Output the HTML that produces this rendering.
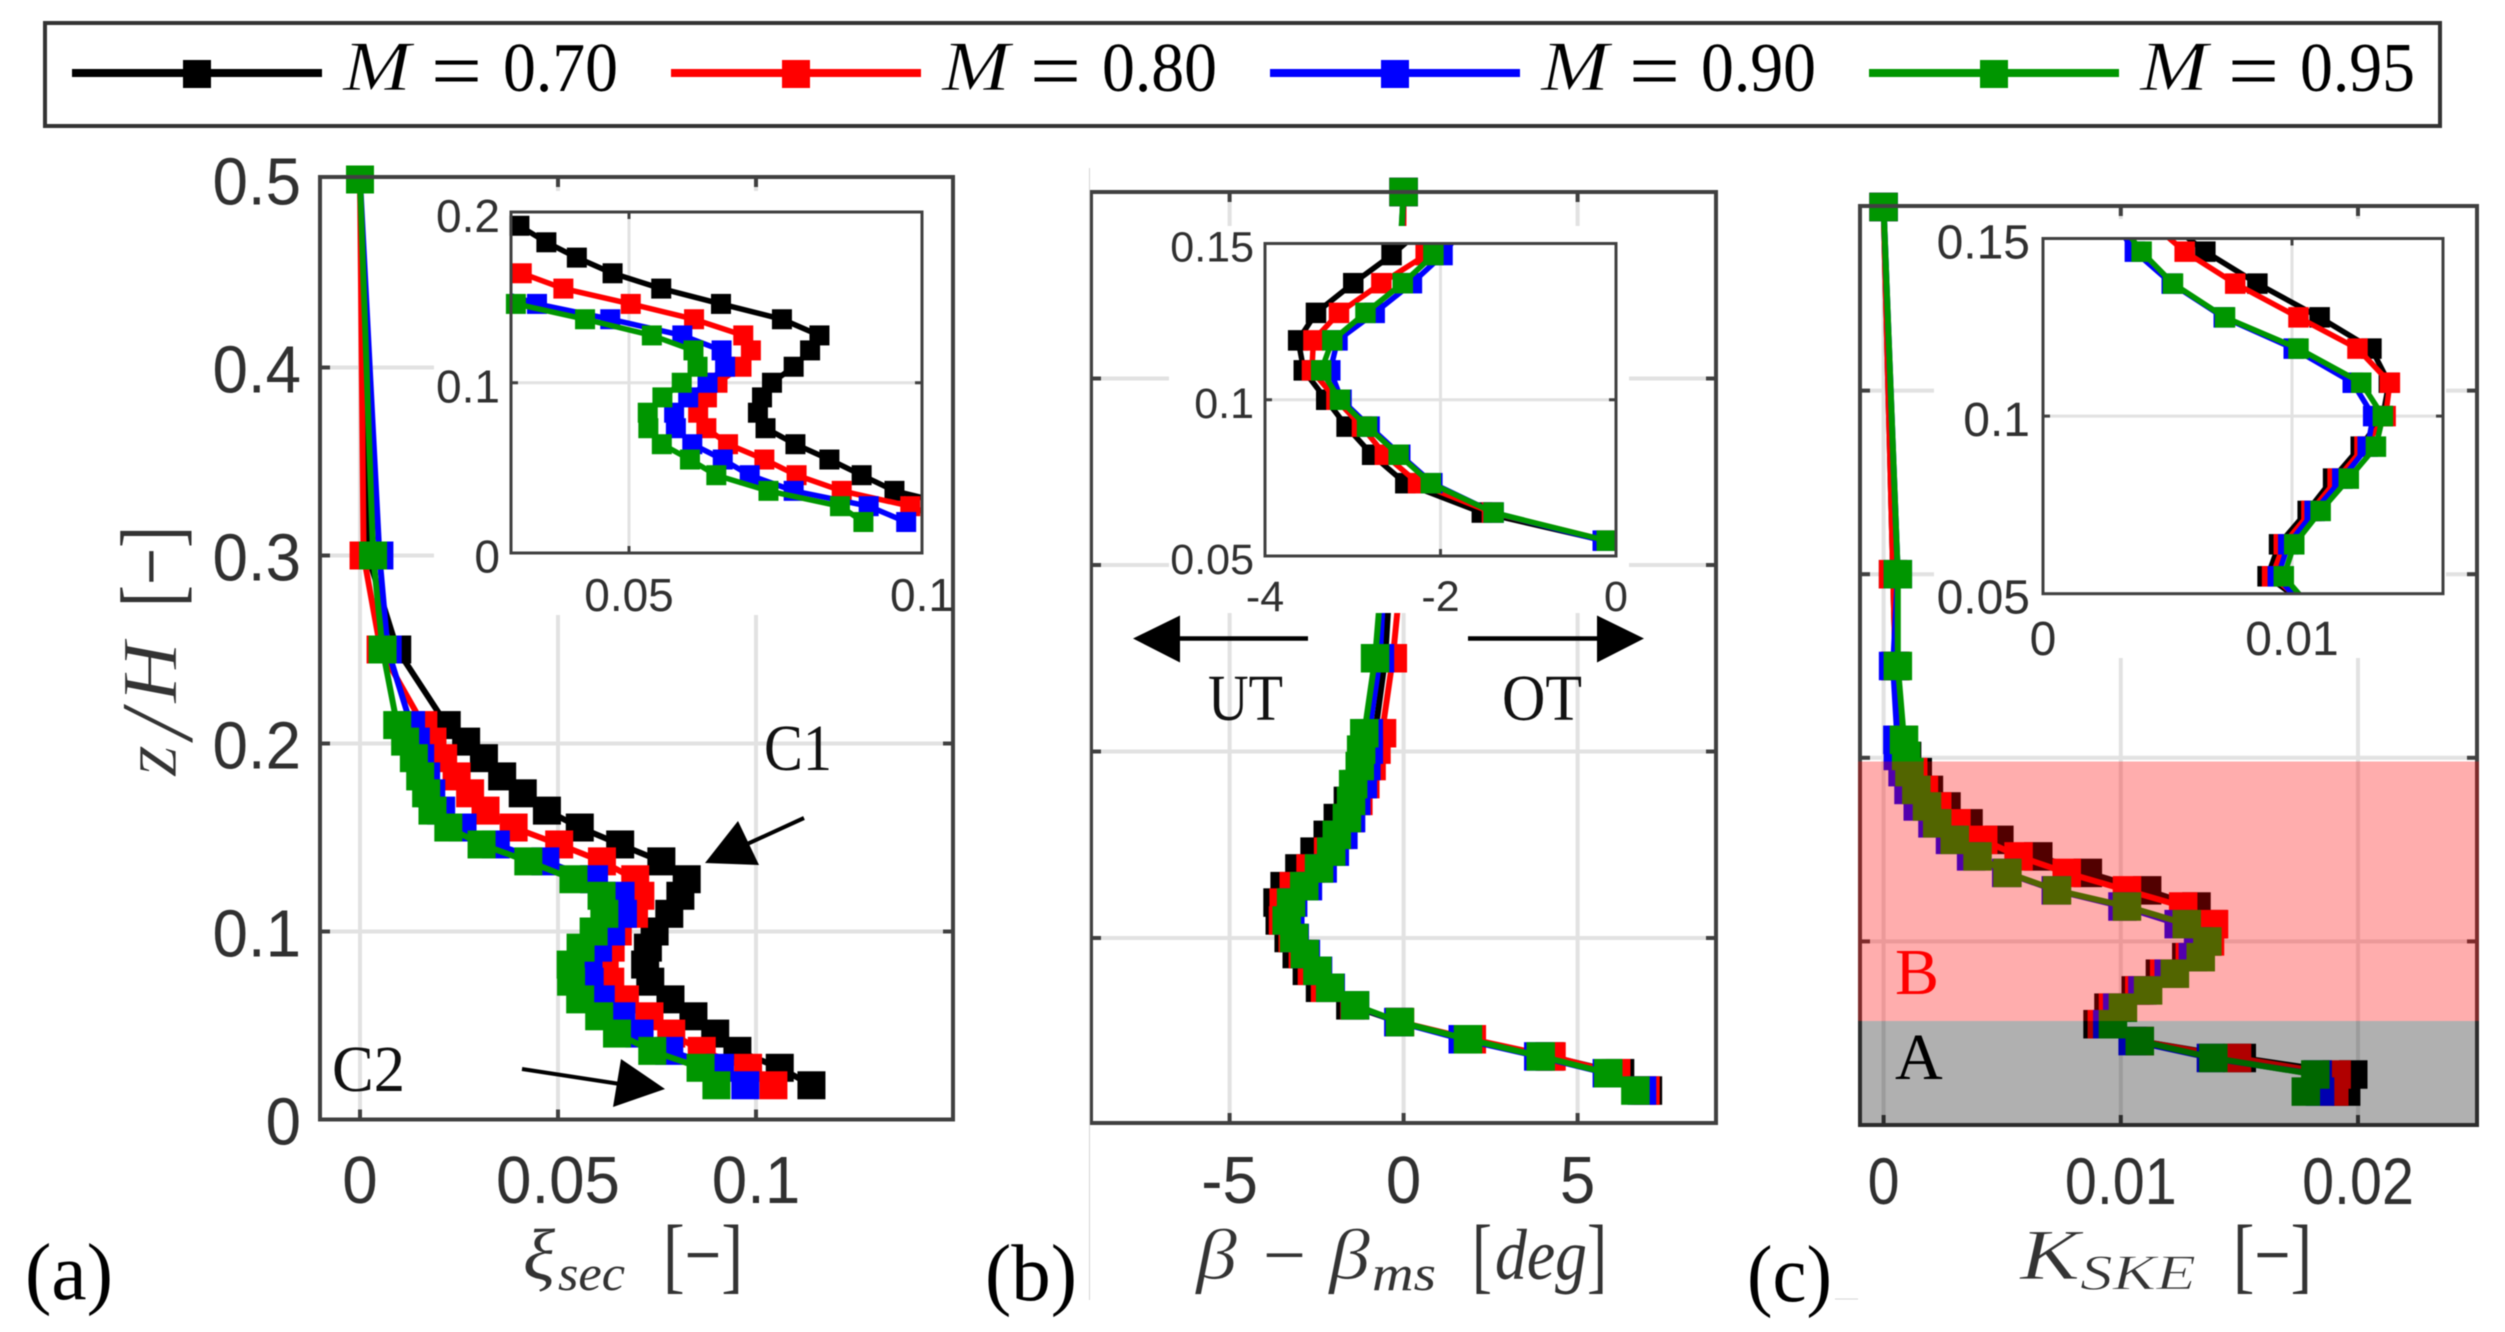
<!DOCTYPE html>
<html lang="en">
<head>
<meta charset="utf-8">
<title>Spanwise profiles of secondary loss, flow angle and SKE</title>
<style>
html,body{margin:0;padding:0;background:#fff;}
svg{display:block;filter:blur(0.5px);}
.tick{font-family:"Liberation Sans",sans-serif;fill:#303030;}
.serif{font-family:"Liberation Serif",serif;}
.ital{font-family:"Liberation Serif",serif;font-style:italic;}
.thin{stroke:#fff;stroke-width:0.8;}
</style>
</head>
<body>
<svg id="figure" xmlns="http://www.w3.org/2000/svg" width="2505" height="1332" viewBox="0 0 2505 1332">
  <defs>
    <clipPath id="clip-inset-a"><rect x="511" y="212" width="411" height="341"/></clipPath>
    <clipPath id="clip-inset-b"><rect x="1265" y="243.5" width="351" height="312.5"/></clipPath>
    <clipPath id="clip-inset-c"><rect x="2043" y="238.5" width="400" height="355"/></clipPath>
  </defs>
  <rect width="2505" height="1332" fill="#fff"/>

  <g id="legend">
    <rect x="45" y="23" width="2395" height="103" fill="#fff" stroke="#333" stroke-width="4"/>
    <g>
      <line x1="72" x2="322" y1="73" y2="73" stroke="#000" stroke-width="8"/>
      <rect x="183" y="60" width="28" height="28" fill="#000"/>
      <text class="ital thin" x="343" y="90" font-size="71" textLength="68" lengthAdjust="spacingAndGlyphs">M</text>
      <text class="serif" x="431" y="99" font-size="84" textLength="51" lengthAdjust="spacingAndGlyphs">=</text>
      <text class="serif" x="503" y="91" font-size="70" textLength="115" lengthAdjust="spacingAndGlyphs">0.70</text>
    </g>
    <g>
      <line x1="671" x2="921" y1="73" y2="73" stroke="#f00" stroke-width="8"/>
      <rect x="782" y="60" width="28" height="28" fill="#f00"/>
      <text class="ital thin" x="942" y="90" font-size="71" textLength="68" lengthAdjust="spacingAndGlyphs">M</text>
      <text class="serif" x="1030" y="99" font-size="84" textLength="51" lengthAdjust="spacingAndGlyphs">=</text>
      <text class="serif" x="1102" y="91" font-size="70" textLength="115" lengthAdjust="spacingAndGlyphs">0.80</text>
    </g>
    <g>
      <line x1="1270" x2="1520" y1="73" y2="73" stroke="#00f" stroke-width="8"/>
      <rect x="1381" y="60" width="28" height="28" fill="#00f"/>
      <text class="ital thin" x="1541" y="90" font-size="71" textLength="68" lengthAdjust="spacingAndGlyphs">M</text>
      <text class="serif" x="1629" y="99" font-size="84" textLength="51" lengthAdjust="spacingAndGlyphs">=</text>
      <text class="serif" x="1701" y="91" font-size="70" textLength="115" lengthAdjust="spacingAndGlyphs">0.90</text>
    </g>
    <g>
      <line x1="1869" x2="2119" y1="73" y2="73" stroke="#009600" stroke-width="8"/>
      <rect x="1980" y="60" width="28" height="28" fill="#009600"/>
      <text class="ital thin" x="2140" y="90" font-size="71" textLength="68" lengthAdjust="spacingAndGlyphs">M</text>
      <text class="serif" x="2228" y="99" font-size="84" textLength="51" lengthAdjust="spacingAndGlyphs">=</text>
      <text class="serif" x="2300" y="91" font-size="70" textLength="115" lengthAdjust="spacingAndGlyphs">0.95</text>
    </g>
  </g>

  <g id="panel-a"></g>
  <g id="panel-b"></g>
  <g id="panel-c"></g>

  <g>
    <g fill="#333">
      <text class="ital thin" transform="translate(176,776) rotate(-90)" font-size="78" textLength="31" lengthAdjust="spacingAndGlyphs">z</text>
      <text class="ital thin" transform="translate(192,739) rotate(-90)" font-size="104" textLength="28" lengthAdjust="spacingAndGlyphs">/</text>
      <text class="ital thin" transform="translate(176,703) rotate(-90)" font-size="78" textLength="61" lengthAdjust="spacingAndGlyphs">H</text>
      <text class="serif" transform="translate(180,607) rotate(-90)" font-size="86" textLength="81" lengthAdjust="spacingAndGlyphs">[−]</text>
    </g>

    <g fill="#333">
      <text class="ital" x="523" y="1279" font-size="72" textLength="32" lengthAdjust="spacingAndGlyphs">ξ</text>
      <text class="ital" x="558" y="1290" font-size="50" textLength="67" lengthAdjust="spacingAndGlyphs">sec</text>
      <text class="serif" x="663" y="1283" font-size="84" textLength="80" lengthAdjust="spacingAndGlyphs">[−]</text>
    </g>
    <g fill="#333">
      <text class="ital thin" x="1196" y="1279" font-size="72" textLength="41" lengthAdjust="spacingAndGlyphs">β</text>
      <text class="serif" x="1263" y="1279" font-size="72" textLength="43" lengthAdjust="spacingAndGlyphs">−</text>
      <text class="ital thin" x="1329" y="1279" font-size="72" textLength="41" lengthAdjust="spacingAndGlyphs">β</text>
      <text class="ital" x="1372" y="1290" font-size="50" textLength="64" lengthAdjust="spacingAndGlyphs">ms</text>
      <text class="serif" x="1472" y="1283" font-size="84" textLength="20" lengthAdjust="spacingAndGlyphs">[</text>
      <text class="ital" x="1495" y="1279" font-size="72" textLength="92" lengthAdjust="spacingAndGlyphs">deg</text>
      <text class="serif" x="1587" y="1283" font-size="84" textLength="20" lengthAdjust="spacingAndGlyphs">]</text>
    </g>
    <g fill="#333">
      <text class="ital thin" x="2020" y="1279" font-size="72" textLength="60" lengthAdjust="spacingAndGlyphs">K</text>
      <text class="ital thin" x="2080" y="1289" font-size="50" textLength="116" lengthAdjust="spacingAndGlyphs">SKE</text>
      <text class="serif" x="2233" y="1283" font-size="84" textLength="79" lengthAdjust="spacingAndGlyphs">[−]</text>
    </g>

    <text class="serif" x="25" y="1299" font-size="80" textLength="88" lengthAdjust="spacingAndGlyphs" fill="#000">(a)</text>
    <text class="serif" x="985" y="1300" font-size="80" textLength="92" lengthAdjust="spacingAndGlyphs" fill="#000">(b)</text>
    <text class="serif" x="1747" y="1301" font-size="80" textLength="85" lengthAdjust="spacingAndGlyphs" fill="#000">(c)</text>

    <text class="serif" x="764" y="770" font-size="66" textLength="68" lengthAdjust="spacingAndGlyphs" fill="#111">C1</text>
    <line x1="804" y1="818" x2="745" y2="845" stroke="#000" stroke-width="4"/>
    <polygon points="738,821 705,863 759,865" fill="#000"/>
    <text class="serif" x="332" y="1091" font-size="66" textLength="73" lengthAdjust="spacingAndGlyphs" fill="#111">C2</text>
    <line x1="522" y1="1069" x2="620" y2="1084" stroke="#000" stroke-width="4"/>
    <polygon points="621,1059 665,1089 613,1107" fill="#000"/>

    <line x1="1180" y1="638.5" x2="1308" y2="638.5" stroke="#000" stroke-width="4.5"/>
    <polygon points="1133,638.5 1180,615.5 1180,662.5" fill="#000"/>
    <line x1="1468" y1="638.5" x2="1597" y2="638.5" stroke="#000" stroke-width="4.5"/>
    <polygon points="1644,638.5 1597,615.5 1597,662.5" fill="#000"/>
    <text class="serif" x="1208" y="720" font-size="66" textLength="75" lengthAdjust="spacingAndGlyphs" fill="#111">UT</text>
    <text class="serif" x="1502" y="720" font-size="66" textLength="80" lengthAdjust="spacingAndGlyphs" fill="#111">OT</text>

    <line x1="1089.5" y1="168" x2="1089.5" y2="1300" stroke="#d4d4d4" stroke-width="1"/>
    <line x1="1835" y1="1299" x2="1858" y2="1299" stroke="#d4d4d4" stroke-width="1"/>
  </g>
</svg>

<script>
// Shared spanwise stations z/H
const zLevels = [0.0182,0.0275,0.0365,0.0457,0.0549,0.0639,0.0733,0.0824,0.0914,0.1,0.1094,0.119,0.1278,0.1373,0.1463,0.1553,0.1643,0.1735,0.1825,0.1922,0.201,0.2098,0.25,0.3,0.5];

// Panel (a): secondary loss coefficient
const xiM70 = [0.114,0.106,0.0953,0.0897,0.0842,0.0784,0.0733,0.072,0.0727,0.0744,0.0781,0.0809,0.0825,0.0761,0.0657,0.0555,0.0472,0.0411,0.0359,0.0313,0.0268,0.0219,0.0094,0.002,0];
const xiM80 = [0.1044,0.098,0.0863,0.0786,0.0731,0.0669,0.0632,0.0618,0.0633,0.0651,0.0692,0.0708,0.0695,0.0611,0.0503,0.0388,0.0317,0.0278,0.0244,0.021,0.0183,0.016,0.0052,0.0009,0];
const xiM90 = [0.0973,0.0909,0.0781,0.0706,0.066,0.0608,0.058,0.0577,0.0601,0.0634,0.0664,0.0658,0.0591,0.0468,0.0343,0.0259,0.0205,0.018,0.0167,0.0152,0.0141,0.0129,0.007,0.0049,0];
const xiM95 = [0.09,0.086,0.0738,0.0649,0.0604,0.0556,0.0533,0.0532,0.0557,0.059,0.0617,0.061,0.0539,0.0425,0.0307,0.0223,0.0183,0.0167,0.0152,0.0136,0.0114,0.0094,0.0057,0.0033,0];

// Panel (b): flow angle deviation
const betaM70 = [7.02,6.22,4.2,1.85,-0.134,-1.529,-2.401,-2.779,-3.07,-3.302,-3.558,-3.622,-3.419,-2.994,-2.558,-2.18,-1.89,-1.6,-1.33,-1.11,-1.01,-0.82,-0.53,-0.37,0];
const betaM80 = [6.95,6.11,4.25,1.96,-0.105,-1.413,-2.256,-2.634,-2.895,-3.186,-3.465,-3.448,-3.157,-2.674,-2.169,-1.85,-1.55,-1.3,-1.1,-0.92,-0.78,-0.62,-0.31,-0.05,0];
const betaM90 = [6.85,5.84,3.87,1.7,-0.151,-1.395,-2.093,-2.459,-2.808,-3.128,-3.256,-3.174,-2.75,-2.326,-1.977,-1.73,-1.51,-1.36,-1.17,-1.07,-1,-1,-0.68,-0.55,0];
const betaM95 = [6.66,5.88,3.94,1.85,-0.105,-1.395,-2.11,-2.477,-2.837,-3.145,-3.36,-3.233,-2.855,-2.43,-2.081,-1.92,-1.63,-1.51,-1.45,-1.26,-1.22,-1.13,-0.82,-0.6,0];

// Panel (c): secondary kinetic energy
const kskeM70 = [0.0195,0.0198,0.0151,0.0108,0.00902,0.00948,0.01063,0.01165,0.01276,0.01365,0.01389,0.01319,0.01111,0.00861,0.00652,0.00488,0.00358,0.00265,0.00191,0.00144,0.00099,0.0008,0.0005,0.0004,0];
const kskeM80 = [0.019,0.0191,0.0149,0.0108,0.0092,0.00967,0.01078,0.01183,0.01291,0.01376,0.01393,0.01263,0.01026,0.00772,0.00569,0.0042,0.00307,0.00226,0.0017,0.00125,0.0009,0.00075,0.0005,0.0004,0];
const kskeM90 = [0.0184,0.0183,0.0138,0.0105,0.00943,0.00985,0.01091,0.01202,0.01304,0.01326,0.01244,0.01007,0.00726,0.00517,0.00369,0.0028,0.00206,0.00144,0.00105,0.0008,0.0006,0.00058,0.0004,0.0006,0];
const kskeM95 = [0.0178,0.0182,0.0139,0.0108,0.00967,0.01009,0.01115,0.01228,0.01337,0.01365,0.01278,0.01026,0.00731,0.00522,0.00396,0.003,0.00226,0.00183,0.00138,0.00109,0.00095,0.00086,0.0006,0.0006,0];

// Tick values and labels
const mainZTicks = [0.1,0.2,0.3,0.4];
const mainZLabelValues = [0,0.1,0.2,0.3,0.4,0.5];
const mainZLabels = ['0','0.1','0.2','0.3','0.4','0.5'];
const xiTicks = [0,0.05,0.1];
const xiTickLabels = ['0','0.05','0.1'];
const betaTicks = [-5,0,5];
const betaTickLabels = ['-5','0','5'];
const kskeTicks = [0,0.01,0.02];
const kskeTickLabels = ['0','0.01','0.02'];
const insetAXTicks = [0.05,0.1];
const insetAXLabels = ['0.05','0.1'];
const insetAZTicks = [0,0.1,0.2];
const insetAZLabels = ['0','0.1','0.2'];
const insetBXTicks = [-4,-2,0];
const insetBXLabels = ['-4','-2','0'];
const insetBZTicks = [0.05,0.1,0.15];
const insetBZLabels = ['0.05','0.1','0.15'];
const insetCXTicks = [0,0.01];
const insetCXLabels = ['0','0.01'];
const insetCZTicks = [0.05,0.1,0.15];
const insetCZLabels = ['0.05','0.1','0.15'];

const seriesColors = ['#000000','#ff0000','#0000ff','#009600'];
const seriesNames = ['m070','m080','m090','m095'];

const NS = 'http://www.w3.org/2000/svg';

function scale(d0, d1, p0, p1) {
  return function (v) { return p0 + (v - d0) * (p1 - p0) / (d1 - d0); };
}
function el(parent, tag) {
  const e = document.createElementNS(NS, tag);
  parent.appendChild(e);
  return e;
}
function lineEl(parent, x1, y1, x2, y2, color, width) {
  const l = el(parent, 'line');
  l.setAttribute('x1', x1); l.setAttribute('y1', y1);
  l.setAttribute('x2', x2); l.setAttribute('y2', y2);
  l.setAttribute('stroke', color); l.setAttribute('stroke-width', width);
  return l;
}
function textEl(parent, str, x, y, size, anchor, squeeze) {
  const t = el(parent, 'text');
  t.setAttribute('class', 'tick');
  t.setAttribute('x', x); t.setAttribute('y', y);
  t.setAttribute('font-size', size);
  t.setAttribute('text-anchor', anchor);
  t.textContent = str;
  if (squeeze && squeeze !== 1) {
    t.setAttribute('textLength', (t.getComputedTextLength() * squeeze).toFixed(1));
    t.setAttribute('lengthAdjust', 'spacingAndGlyphs');
  }
  return t;
}

function drawGrid(g, ax, xTicks, zTicks, width) {
  xTicks.forEach(function (v) {
    const l = lineEl(g, ax.x(v), ax.top, ax.x(v), ax.bottom, '#e2e2e2', width);
    
    
  });
  zTicks.forEach(function (v) {
    const l = lineEl(g, ax.left, ax.z(v), ax.right, ax.z(v), '#e2e2e2', width);
    
    
  });
}

function drawTicks(g, ax, xTicks, zTicks, len, width) {
  xTicks.forEach(function (v) {
    const a = lineEl(g, ax.x(v), ax.bottom, ax.x(v), ax.bottom - len, '#404040', width);
    
    
    const b = lineEl(g, ax.x(v), ax.top, ax.x(v), ax.top + len, '#404040', width);
    
    
  });
  zTicks.forEach(function (v) {
    const a = lineEl(g, ax.left, ax.z(v), ax.left + len, ax.z(v), '#404040', width);
    
    
    const b = lineEl(g, ax.right, ax.z(v), ax.right - len, ax.z(v), '#404040', width);
    
    
  });
}

function drawSeries(g, ax, allSeries, lineWidth, markerSize, clipId) {
  allSeries.forEach(function (values, s) {
    const sg = el(g, 'g');
    
    
    const pts = values.map(function (v, i) { return ax.x(v).toFixed(1) + ',' + ax.z(zLevels[i]).toFixed(1); });
    const p = el(sg, 'polyline');
    
    
    p.setAttribute('points', pts.join(' '));
    p.setAttribute('fill', 'none');
    p.setAttribute('stroke', seriesColors[s]);
    p.setAttribute('stroke-width', lineWidth);
    p.setAttribute('stroke-linejoin', 'round');
    if (clipId) { p.setAttribute('clip-path', 'url(#' + clipId + ')'); }
    values.forEach(function (v, i) {
      const cx = ax.x(v), cy = ax.z(zLevels[i]);
      if (cx < ax.left - 0.5 || cx > ax.right + 0.5 || cy < ax.top - 3 || cy > ax.bottom + 0.5) { return; }
      const r = el(sg, 'rect');
      
      
      r.setAttribute('x', cx - markerSize / 2);
      r.setAttribute('y', cy - markerSize / 2);
      r.setAttribute('width', markerSize);
      r.setAttribute('height', markerSize);
      r.setAttribute('fill', seriesColors[s]);
    });
  });
}

function drawFrame(g, ax, width) {
  const r = el(g, 'rect');
  
  
  r.setAttribute('x', ax.left);
  r.setAttribute('y', ax.top);
  r.setAttribute('width', ax.right - ax.left);
  r.setAttribute('height', ax.bottom - ax.top);
  r.setAttribute('fill', 'none');
  r.setAttribute('stroke', '#404040');
  r.setAttribute('stroke-width', width);
}

function drawMask(g, x, y, w, h) {
  const m = el(g, 'rect');
  
  
  m.setAttribute('x', x); m.setAttribute('y', y);
  m.setAttribute('width', w); m.setAttribute('height', h);
  m.setAttribute('fill', '#ffffff');
}

function drawXLabels(g, ax, ticks, labels, baseline, size, squeeze) {
  ticks.forEach(function (v, i) {
    const t = textEl(g, labels[i], ax.x(v), baseline, size, 'middle', squeeze);
    
    
  });
}
function drawZLabels(g, ax, ticks, labels, right, offset, size, squeeze) {
  ticks.forEach(function (v, i) {
    const t = textEl(g, labels[i], right, ax.z(v) + offset, size, 'end', squeeze);
    
    
  });
}

// Panel (a)
(function () {
  const g = document.getElementById('panel-a');
  const main = { left: 320, right: 953, top: 177, bottom: 1119.5,
    x: scale(0, 0.1, 360, 756), z: scale(0, 0.5, 1119.5, 179.5) };
  const inset = { left: 511, right: 922, top: 212, bottom: 553,
    x: scale(0.05, 0.1, 629, 922), z: scale(0, 0.2, 553, 212.5) };
  const data = [xiM70, xiM80, xiM90, xiM95];
  drawGrid(g, main, xiTicks, mainZTicks, 4);
  drawTicks(g, main, xiTicks, mainZTicks, 10, 4);
  drawSeries(g, main, data, 6, 28, null);
  drawMask(g, 434, 191, 517, 424);
  drawGrid(g, inset, [0.05], [0.1], 3);
  drawTicks(g, inset, [0.05], [0.1], 7, 3);
  drawSeries(g, inset, data, 5.5, 20, 'clip-inset-a');
  drawFrame(g, main, 4);
  drawFrame(g, inset, 3);
  drawZLabels(g, main, mainZLabelValues, mainZLabels, 301, 25, 67, 0.95);
  drawXLabels(g, main, xiTicks, xiTickLabels, 1203, 67, 0.95);
  drawZLabels(g, inset, insetAZTicks, insetAZLabels, 500, 19.5, 46);
  drawXLabels(g, inset, insetAXTicks, insetAXLabels, 611, 46);
})();

// Panel (b)
(function () {
  const g = document.getElementById('panel-b');
  const main = { left: 1091, right: 1716, top: 192, bottom: 1123,
    x: scale(0, 5, 1403.6, 1577.6), z: scale(0, 0.5, 1124.5, 192) };
  const inset = { left: 1265, right: 1616, top: 243.5, bottom: 556,
    x: scale(-4, 0, 1265, 1616), z: scale(0.05, 0.15, 556, 243.5) };
  const data = [betaM70, betaM80, betaM90, betaM95];
  drawGrid(g, main, betaTicks, mainZTicks, 4);
  drawTicks(g, main, betaTicks, mainZTicks, 10, 4);
  drawSeries(g, main, data, 6, 28.5, null);
  drawMask(g, 1169, 226, 460, 387);
  drawGrid(g, inset, [-2], [0.1], 3);
  drawTicks(g, inset, [-2], [0.1], 7, 3);
  drawSeries(g, inset, data, 5.5, 20.5, 'clip-inset-b');
  drawFrame(g, main, 4);
  drawFrame(g, inset, 3);
  drawXLabels(g, main, betaTicks, betaTickLabels, 1203, 67, 0.95);
  drawZLabels(g, inset, insetBZTicks, insetBZLabels, 1254, 18, 43);
  drawXLabels(g, inset, insetBXTicks, insetBXLabels, 611, 43);
})();

// Panel (c)
(function () {
  const g = document.getElementById('panel-c');
  const main = { left: 1860, right: 2477, top: 206, bottom: 1125,
    x: scale(0, 0.02, 1883.6, 2358), z: scale(0, 0.5, 1125, 207) };
  const inset = { left: 2043, right: 2443, top: 238.5, bottom: 593.7,
    x: scale(0, 0.01, 2043, 2292), z: scale(0.05, 0.15, 593.7, 238.5) };
  const data = [kskeM70, kskeM80, kskeM90, kskeM95];
  drawGrid(g, main, kskeTicks, mainZTicks, 4);
  drawTicks(g, main, kskeTicks, mainZTicks, 10, 4);
  drawSeries(g, main, data, 6, 28.5, null);
  drawMask(g, 1934, 219, 512, 439);
  drawGrid(g, inset, [0.01], [0.1], 3);
  drawTicks(g, inset, [0.01], [0.1], 7, 3);
  drawSeries(g, inset, data, 5.5, 20.5, 'clip-inset-c');
  drawFrame(g, main, 4);
  drawFrame(g, inset, 3);

  const bandB = el(g, 'rect');
  
  
  bandB.setAttribute('x', main.left - 2);
  bandB.setAttribute('y', 761.5);
  bandB.setAttribute('width', main.right - main.left + 4);
  bandB.setAttribute('height', 259.5);
  bandB.setAttribute('fill', 'rgba(255,0,0,0.32)');

  const bandA = el(g, 'rect');
  
  
  bandA.setAttribute('x', main.left - 2);
  bandA.setAttribute('y', 1021);
  bandA.setAttribute('width', main.right - main.left + 4);
  bandA.setAttribute('height', 106);
  bandA.setAttribute('fill', 'rgba(0,0,0,0.31)');

  const labelB = el(g, 'text');
  
  
  labelB.setAttribute('class', 'serif');
  labelB.setAttribute('x', 1895);
  labelB.setAttribute('y', 994);
  labelB.setAttribute('font-size', 66);
  labelB.setAttribute('fill', '#ff0000');
  labelB.textContent = 'B';

  const labelA = el(g, 'text');
  
  
  labelA.setAttribute('class', 'serif');
  labelA.setAttribute('x', 1895);
  labelA.setAttribute('y', 1079);
  labelA.setAttribute('font-size', 66);
  labelA.setAttribute('fill', '#000000');
  labelA.textContent = 'A';

  drawXLabels(g, main, kskeTicks, kskeTickLabels, 1204, 66, 0.87);
  drawZLabels(g, inset, insetCZTicks, insetCZLabels, 2030, 20, 48);
  drawXLabels(g, inset, insetCXTicks, insetCXLabels, 655, 48);
})();
</script>
</body>
</html>
